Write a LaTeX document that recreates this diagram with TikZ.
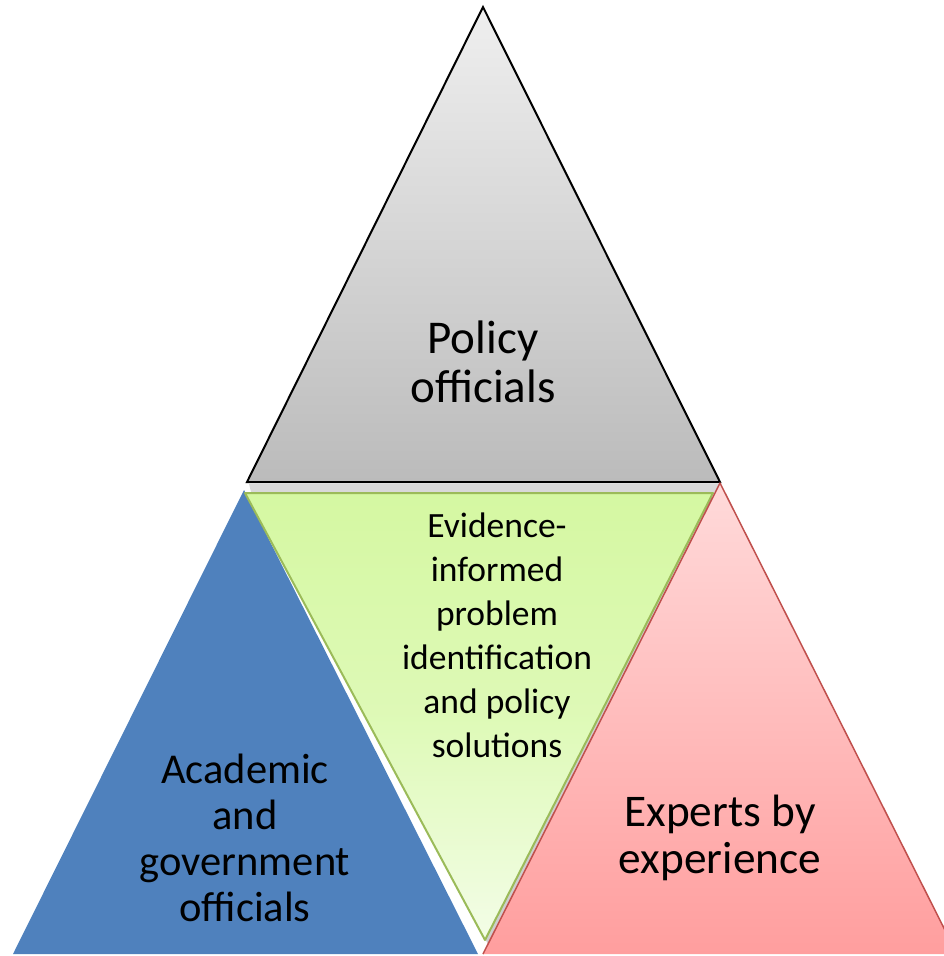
\documentclass[tikz,border=0pt]{standalone}
\usepackage{fontspec}
\setmainfont{Carlito}
\usetikzlibrary{shadows,calc}
\definecolor{grayTop}{HTML}{EFEFEF}
\definecolor{grayBot}{HTML}{BBBBBB}
\definecolor{greenTop}{HTML}{D5F8A2}
\definecolor{greenBot}{HTML}{F3FDE7}
\definecolor{greenLine}{HTML}{9BBB59}
\definecolor{pinkTop}{HTML}{FFDADA}
\definecolor{pinkBot}{HTML}{FF9E9E}
\definecolor{pinkLine}{HTML}{C0504D}
\definecolor{blueFill}{HTML}{4F81BD}
\tikzset{
  label/.style={align=center, text=black, inner sep=0pt},
}
\begin{document}
\begin{tikzpicture}[x=1pt,y=-1pt]
\useasboundingbox (0,0) rectangle (944,956);
\clip (0,0) rectangle (944,956);
% top triangle shadow
\fill[black!25, opacity=0.6] (249,484) -- (720,484) -- (718,492) -- (251,492) -- cycle;
% top triangle
\shade[top color=grayTop, bottom color=grayBot] (483,7) -- (720,482) -- (247,482) -- cycle;
\draw[black, line width=2pt, line join=miter] (483,7) -- (720,482) -- (247,482) -- cycle;
% blue triangle
\fill[blueFill] (244,490) -- (478,954) -- (13,954) -- cycle;
% green triangle shadow
\fill[black!35, opacity=0.55] (248,497) -- (718,497) -- (489,946) -- cycle;
% green triangle
\shade[top color=greenTop, bottom color=greenBot, middle color=greenTop!70!greenBot] (245,493) -- (713,493) -- (485,940) -- cycle;
\draw[greenLine, line width=2pt, line join=round] (245,493) -- (713,493) -- (485,940) -- cycle;
% pink triangle
\shade[top color=pinkTop, bottom color=pinkBot] (720,483) -- (957,954) -- (483,954) -- cycle;
\draw[pinkLine, line width=1.5pt, line join=round] (483,954) -- (720,483) -- (957,954);
% labels
\node[label, font=\fontsize{47}{49}\selectfont] (policy) at (483,362) {Policy\\officials};
\node[label, font=\fontsize{35.5}{44}\selectfont] (evidence) at (497,635) {Evidence-\\informed\\problem\\identification\\and policy\\solutions};
\node[label, font=\fontsize{42.5}{46}\selectfont] (academic) at (245,838) {Academic\\and\\government\\officials};
\node[label, font=\fontsize{45.3}{47}\selectfont] (experts) at (720,838) {Experts by\\experience};
\end{tikzpicture}
\end{document}
